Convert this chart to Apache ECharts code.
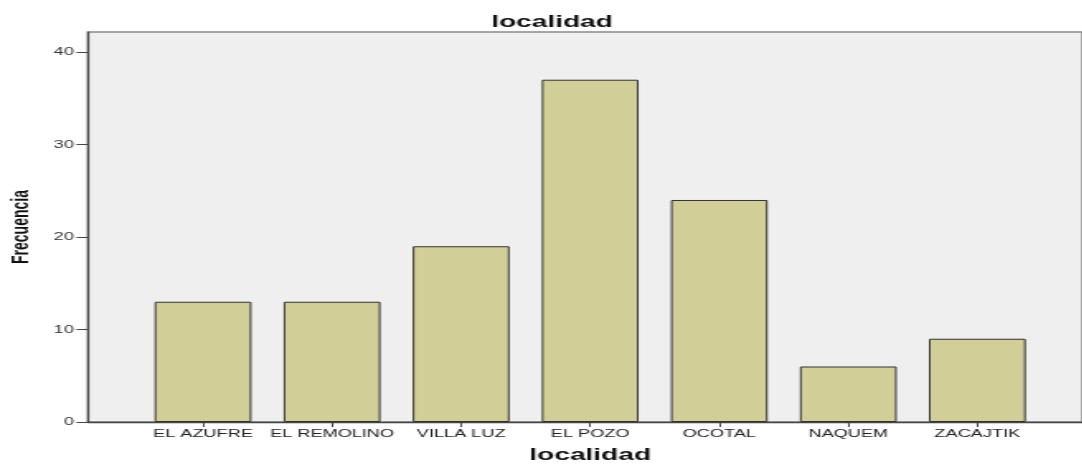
<!DOCTYPE html>
<html>
<head>
<meta charset="utf-8">
<script src="https://cdn.jsdelivr.net/npm/echarts@6/dist/echarts.min.js"></script>
<style>
html,body{margin:0;padding:0;background:#fff;overflow:hidden;width:1082px;height:464px;}
#main{height:464px;transform-origin:0 0;}
</style>
</head>
<body>
<div id="main"></div>
<script>
const categories = ['EL AZUFRE', 'EL REMOLINO', 'VILLA LUZ', 'EL POZO', 'OCOTAL', 'NAQUEM', 'ZACAJTIK'];
const frecuencia = [13, 13, 19, 37, 24, 6, 9];
const yTicks = [0, 10, 20, 30, 40];
const chartTitle = 'localidad';
const xName = 'localidad';
const yName = 'Frecuencia';

// The reference picture is stretched horizontally; draw narrower, then stretch.
const SX = 1.65;
const W = 1082 / SX;
const el = document.getElementById('main');
el.style.width = W + 'px';
el.style.transform = 'scaleX(' + SX + ')';

const FONT = "'Liberation Sans', Arial, sans-serif";
const yMax = 42.16;

const chart = echarts.init(el, null, { renderer: 'canvas' });
chart.setOption({
  animation: false,
  backgroundColor: '#ffffff',
  title: {
    text: chartTitle,
    left: 483 / SX,
    top: 9,
    textStyle: { fontFamily: FONT, fontSize: 17, fontWeight: 'bold', color: '#111' }
  },
  grid: [
    { left: 88 / SX, right: 0, top: 32, bottom: 42, outerBoundsMode: 'none', containLabel: false,
      show: true, backgroundColor: '#EFEFEF', borderColor: '#8a8a8a', borderWidth: 1.5 },
    { left: 138.5 / SX, right: W - 1041.5 / SX, top: 32, bottom: 42, outerBoundsMode: 'none', containLabel: false }
  ],
  xAxis: [
    {
      gridIndex: 0, type: 'value', min: 0, max: 1,
      axisLine: { show: true, lineStyle: { color: '#444', width: 1.3 } },
      axisTick: { show: false }, axisLabel: { show: false }, splitLine: { show: false }
    },
    {
      gridIndex: 1, type: 'category', data: categories,
      name: xName, nameLocation: 'middle', nameGap: 25,
      nameTextStyle: { fontFamily: FONT, fontSize: 17, fontWeight: 'bold', color: '#111' },
      axisLine: { show: false },
      axisTick: { show: true, alignWithLabel: true, length: 5, lineStyle: { color: '#444', width: 1 } },
      axisLabel: { fontFamily: FONT, fontSize: 11, color: '#222', margin: 6, interval: 0, hideOverlap: false },
      splitLine: { show: false }
    }
  ],
  yAxis: [
    {
      gridIndex: 0, type: 'value', min: 0, max: yMax, interval: 10,
      name: yName, nameLocation: 'middle', nameGap: 33, nameRotate: 90,
      nameTextStyle: { fontFamily: FONT, fontSize: 14, fontWeight: 'bold', color: '#111' },
      axisLine: { show: true, lineStyle: { color: '#444', width: 1.2 } },
      axisTick: { show: true, length: 7, customValues: yTicks, lineStyle: { color: '#444', width: 1 } },
      axisLabel: { fontFamily: FONT, fontSize: 11, color: '#333', margin: 8.5, customValues: yTicks },
      splitLine: { show: false }
    },
    {
      gridIndex: 1, type: 'value', min: 0, max: yMax, show: false
    }
  ],
  series: [
    {
      type: 'bar', xAxisIndex: 1, yAxisIndex: 1,
      data: frecuencia,
      barCategoryGap: '25%',
      itemStyle: { color: '#D2CE98', borderColor: '#333', borderWidth: 1 }
    }
  ]
});
</script>
</body>
</html>
